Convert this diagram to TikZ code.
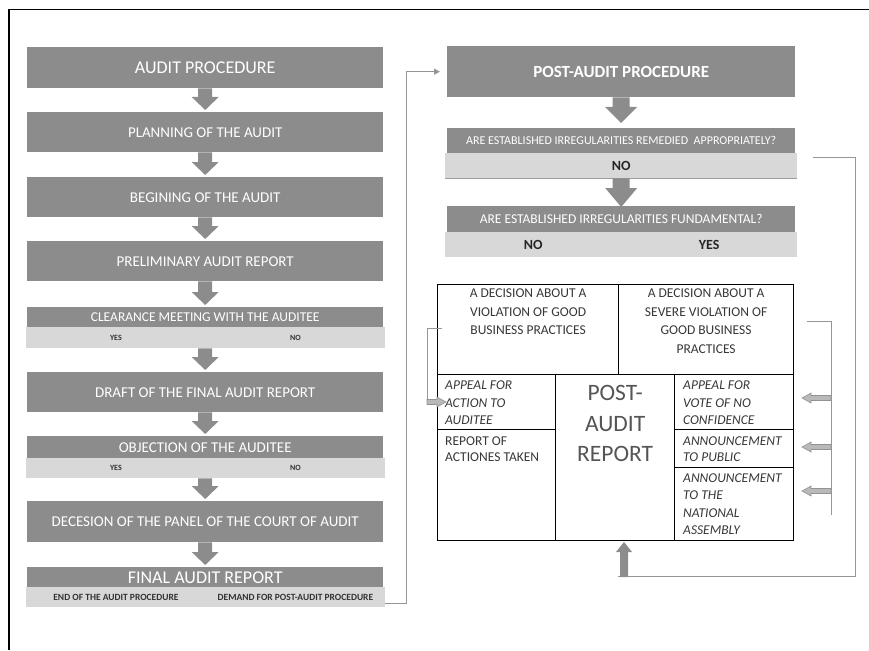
\documentclass[tikz,border=0pt]{standalone}
\usepackage{fontspec}
\setmainfont{Carlito}
\usetikzlibrary{arrows.meta,calc}
\definecolor{boxgray}{RGB}{140,140,140}
\definecolor{rowgray}{RGB}{216,216,216}
\definecolor{linegray}{RGB}{150,150,150}
\definecolor{celltext}{RGB}{55,55,55}
\definecolor{bigtext}{RGB}{85,85,85}
\newcommand\vblock[6]{%
  \fill[#6] let \p1=(#1), \p2=(#2) in
    ({\x2-#3},\y1) -- ({\x2+#3},\y1) -- ({\x2+#3},{\y2+(#5)}) -- ({\x2+#4},{\y2+(#5)})
    -- (\x2,\y2) -- ({\x2-#4},{\y2+(#5)}) -- ({\x2-#3},{\y2+(#5)}) -- cycle;}
\newcommand\hblock[6]{%
  \filldraw[#6] let \p1=(#1), \p2=(#2) in
    (\x1,{\y2-#3}) -- ({\x2+(#5)},{\y2-#3}) -- ({\x2+(#5)},{\y2-#4}) -- (\x2,\y2)
    -- ({\x2+(#5)},{\y2+#4}) -- ({\x2+(#5)},{\y2+#3}) -- (\x1,{\y2+#3}) -- cycle;}
\begin{document}
\begin{tikzpicture}[x=1pt,y=-1pt,
  darkbox/.style={fill=boxgray, text=white, inner sep=0pt, anchor=north west,
    minimum width=356pt, text depth=0pt, font=\fontsize{15}{17}\selectfont},
  rowbox/.style={fill=rowgray, text=black!80, inner sep=0pt, anchor=north west,
    minimum width=179.5pt, text depth=0pt, font=\bfseries\fontsize{8}{9}\selectfont},
  blk/.style={fill=boxgray},
  smallblk/.style={fill=gray!55, draw=gray!85, line width=0.6pt},
  thinline/.style={draw=linegray, line width=1pt},
  cell/.style={draw=black, line width=1.2pt, inner sep=0pt, anchor=north west},
  celltxt/.style={inner sep=0pt, text=celltext},
]
\useasboundingbox (0,0) rectangle (869,650);
\draw[line width=1.6pt] (9,650) -- (9,9.6) -- (869,9.6);

% left column
\node[darkbox, minimum height=41pt, font=\fontsize{18}{20}\selectfont] (a1) at (27,47) {AUDIT PROCEDURE};
\node[darkbox, minimum height=40pt] (a2) at (27,112) {PLANNING OF THE AUDIT};
\node[darkbox, minimum height=40pt] (a3) at (27,177) {BEGINING OF THE AUDIT};
\node[darkbox, minimum height=40pt] (a4) at (27,241) {PRELIMINARY AUDIT REPORT};
\node[darkbox, minimum height=20pt, font=\fontsize{13.5}{15}\selectfont] (a5) at (27,307) {CLEARANCE MEETING WITH THE AUDITEE};
\node[rowbox, minimum height=21pt] (a5y) at (26,327) {YES};
\node[rowbox, minimum height=21pt] (a5n) at (205.5,327) {NO};
\node[darkbox, minimum height=40pt] (a6) at (27,372) {DRAFT OF THE FINAL AUDIT REPORT};
\node[darkbox, minimum height=22pt] (a7) at (27,436) {OBJECTION OF THE AUDITEE};
\node[rowbox, minimum height=20pt] (a7y) at (26,458) {YES};
\node[rowbox, minimum height=20pt] (a7n) at (205.5,458) {NO};
\node[darkbox, minimum height=41pt] (a8) at (27,501) {DECESION OF THE PANEL OF THE COURT OF AUDIT};
\node[darkbox, minimum height=20pt, font=\fontsize{18}{20}\selectfont] (a9) at (27,567) {FINAL AUDIT REPORT};
\node[rowbox, minimum height=20pt, font=\bfseries\fontsize{9.5}{11}\selectfont] (a9e) at (26,587) {END OF THE AUDIT PROCEDURE};
\node[rowbox, minimum height=20pt, font=\bfseries\fontsize{9.5}{11}\selectfont] (a9d) at (205.5,587) {DEMAND FOR POST-AUDIT PROCEDURE};

\vblock{a1.south}{[yshift=2pt]a2.north}{7pt}{13.5pt}{13pt}{blk}
\vblock{a2.south}{[yshift=2pt]a3.north}{7pt}{13.5pt}{13pt}{blk}
\vblock{a3.south}{[yshift=2pt]a4.north}{7pt}{13.5pt}{13pt}{blk}
\vblock{a4.south}{[yshift=2pt]a5.north}{7pt}{13.5pt}{13pt}{blk}
\vblock{a5y.south}{[yshift=2pt]a6.north}{7pt}{13.5pt}{13pt}{blk}
\vblock{a6.south}{[yshift=2pt]a7.north}{7pt}{13.5pt}{13pt}{blk}
\vblock{a7y.south}{[yshift=2pt]a8.north}{7pt}{13.5pt}{13pt}{blk}
\vblock{a8.south}{[yshift=2pt]a9.north}{7pt}{13.5pt}{13pt}{blk}

% right column
\node[darkbox, minimum width=348pt, minimum height=51pt, font=\bfseries\fontsize{17}{19}\selectfont] (p1) at (447,46) {POST-AUDIT PROCEDURE};
\node[darkbox, minimum width=348pt, minimum height=25pt, font=\fontsize{12}{14}\selectfont] (q1) at (447,128) {ARE ESTABLISHED IRREGULARITIES REMEDIED\ \ APPROPRIATELY?};
\node[rowbox, minimum width=352pt, minimum height=25pt, text=black!85, font=\bfseries\fontsize{14}{16}\selectfont] (q1n) at (445,153) {NO};
\draw[gray!75, line width=1pt] (q1n.south west) -- (q1n.south east);
\node[darkbox, minimum width=348pt, minimum height=26pt, font=\fontsize{13.5}{15}\selectfont] (q2) at (447,206) {ARE ESTABLISHED IRREGULARITIES FUNDAMENTAL?};
\node[rowbox, minimum width=176pt, minimum height=25pt, text=black!85, font=\bfseries\fontsize{14}{16}\selectfont] (q2n) at (445,232) {NO};
\node[rowbox, minimum width=176pt, minimum height=25pt, text=black!85, font=\bfseries\fontsize{14}{16}\selectfont] (q2y) at (621,232) {YES};

\vblock{p1.south}{[yshift=5pt]q1.north}{8.5pt}{16pt}{16pt}{blk}
\vblock{q1n.south}{[yshift=-1pt]q2.north}{8.5pt}{16pt}{19pt}{blk}

% table
\node[cell, minimum width=181pt, minimum height=90pt] (t1) at (437,284) {};
\node[cell, minimum width=175pt, minimum height=90pt] (t2) at (618,284) {};
\node[cell, minimum width=118pt, minimum height=55pt] (t3) at (437,374) {};
\node[cell, minimum width=118pt, minimum height=111pt] (t4) at (437,429) {};
\node[cell, minimum width=119pt, minimum height=166pt] (t5) at (555,374) {};
\node[cell, minimum width=119pt, minimum height=55pt] (t6) at (674,374) {};
\node[cell, minimum width=119pt, minimum height=38pt] (t7) at (674,429) {};
\node[cell, minimum width=119pt, minimum height=73pt] (t8) at (674,467) {};

\node[celltxt, anchor=north, align=center, font=\fontsize{13.5}{18.5}\selectfont] (t1x) at ([yshift=-4.7pt]t1.north) {A DECISION ABOUT A\\VIOLATION OF GOOD\\BUSINESS PRACTICES};
\node[celltxt, anchor=north, align=center, font=\fontsize{13.5}{18.5}\selectfont] (t2x) at ([yshift=-4.7pt]t2.north) {A DECISION ABOUT A\\SEVERE VIOLATION OF\\GOOD BUSINESS\\PRACTICES};
\node[celltxt, anchor=north west, align=left, font=\itshape\fontsize{13.5}{17.5}\selectfont] (t3x) at ([xshift=8pt,yshift=-6.6pt]t3.north west) {APPEAL FOR\\ACTION TO\\AUDITEE};
\node[celltxt, anchor=north west, align=left, font=\fontsize{13.5}{16}\selectfont] (t4x) at ([xshift=8pt,yshift=-7.6pt]t4.north west) {REPORT OF\\ACTIONES TAKEN};
\node[celltxt, anchor=north, align=center, text=bigtext, font=\fontsize{23.5}{30.7}\selectfont] (t5x) at ([yshift=-11pt]t5.north) {POST-\\AUDIT\\REPORT};
\node[celltxt, anchor=north west, align=left, font=\itshape\fontsize{13.5}{17.5}\selectfont] (t6x) at ([xshift=9pt,yshift=-6.6pt]t6.north west) {APPEAL FOR\\VOTE OF NO\\CONFIDENCE};
\node[celltxt, anchor=north west, align=left, font=\itshape\fontsize{13.5}{15.5}\selectfont] (t7x) at ([xshift=9pt,yshift=-7.6pt]t7.north west) {ANNOUNCEMENT\\TO PUBLIC};
\node[celltxt, anchor=north west, align=left, font=\itshape\fontsize{13.5}{17.5}\selectfont] (t8x) at ([xshift=9pt,yshift=-6.1pt]t8.north west) {ANNOUNCEMENT\\TO THE\\NATIONAL\\ASSEMBLY};

% connectors
\coordinate (c1s) at (385,603);
\coordinate (c1c) at (406,603);
\draw[thinline, -{Triangle[width=6pt,length=6pt]}, shorten >=7pt] (c1s) -- (c1c) |- (p1.west);

\coordinate (c2s) at (813,157);
\coordinate (c2c) at (855,576);
\coordinate (c2e) at (618,576);
\coordinate (c2a) at (624,577);
\coordinate (c2t) at (624,542);
\draw[thinline] (c2s) -| (c2c) -- (c2e);
\vblock{c2a}{c2t}{4pt}{8pt}{-10pt}{blk}

\coordinate (c3s) at (442,328);
\coordinate (c3c) at (427,328);
\coordinate (c3e) at (427,402);
\coordinate (c3t) at (446,402);
\draw[thinline] (c3s) -- (c3c) -- (c3e);
\hblock{c3e}{c3t}{2.5pt}{5pt}{-9pt}{smallblk}

\coordinate (c4s) at (807,321);
\coordinate (c4c) at (831,321);
\coordinate (c4e) at (831,515);
\draw[thinline] (c4s) -- (c4c) -- (c4e);
\coordinate (c4a1) at (831,398);
\coordinate (c4a2) at (831,447);
\coordinate (c4a3) at (831,491);
\coordinate (c4t1) at (802,398);
\coordinate (c4t2) at (802,447);
\coordinate (c4t3) at (802,491);
\hblock{c4a1}{c4t1}{2.5pt}{5pt}{9pt}{smallblk}
\hblock{c4a2}{c4t2}{2.5pt}{5pt}{9pt}{smallblk}
\hblock{c4a3}{c4t3}{2.5pt}{5pt}{9pt}{smallblk}
\end{tikzpicture}
\end{document}
